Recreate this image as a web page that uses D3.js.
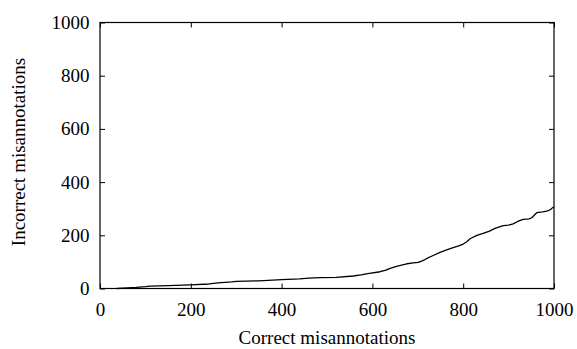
<!DOCTYPE html>
<html>
<head>
<meta charset="utf-8">
<script src="https://cdn.jsdelivr.net/npm/d3@7"></script>
<style>
  body { margin: 0; background: #fff; }
  svg { display: block; font-family: "Liberation Serif", "DejaVu Serif", serif; }
</style>
</head>
<body>
<div id="chart"></div>
<script>
// cumulative curve
const correct = [37, 60, 80, 100, 110, 150, 200, 240, 260, 290, 300, 350, 400, 440, 460, 485, 520, 558, 575, 590, 617, 630, 639, 655, 676, 690, 701, 710, 719, 735, 749, 765, 778, 790, 800, 808, 815, 830, 844, 858, 870, 880, 888, 900, 910, 920, 932, 945, 951, 958, 962, 975, 984, 992, 997, 1000];
const incorrect = [0, 2, 4, 7, 9, 11, 14, 17, 21, 25, 27, 29, 33, 36, 39, 41, 42, 47, 51, 56, 63, 69, 76, 84, 93, 96, 98, 104, 112, 125, 136, 146, 154, 160, 167, 176, 187, 200, 207, 216, 226, 232, 236, 238, 243, 252, 260, 262, 266, 278, 285, 288, 291, 296, 304, 306];
const xTicks = [0, 200, 400, 600, 800, 1000];
const yTicks = [0, 200, 400, 600, 800, 1000];
const xTitle = 'Correct misannotations';
const yTitle = 'Incorrect misannotations';

const width = 577, height = 349;
const margin = { top: 22.5, right: 23, bottom: 60.5, left: 100 };
const tickLen = 5;
const font = '"Liberation Serif", "DejaVu Serif", serif';

const svg = d3.select('#chart').append('svg')
  .attr('width', width)
  .attr('height', height);

const x = d3.scaleLinear().domain([0, 1000]).range([margin.left, width - margin.right]);
const y = d3.scaleLinear().domain([0, 1000]).range([height - margin.bottom, margin.top]);

const axisStyle = g => {
  g.attr('font-family', font).attr('font-size', 19);
  g.select('.domain').remove();
  g.selectAll('line').attr('stroke', '#000');
  g.selectAll('text').attr('fill', '#000');
};

// ticks point inward on all four sides
svg.append('g')
  .attr('transform', `translate(0,${y(0)})`)
  .call(d3.axisBottom(x).tickValues(xTicks).tickSizeInner(-tickLen).tickSizeOuter(0).tickPadding(14).tickFormat(d3.format('d')))
  .call(axisStyle);

svg.append('g')
  .attr('transform', `translate(0,${y(1000)})`)
  .call(d3.axisTop(x).tickValues(xTicks).tickSizeInner(-tickLen).tickSizeOuter(0).tickFormat(''))
  .call(axisStyle);

svg.append('g')
  .attr('transform', `translate(${x(0)},0)`)
  .call(d3.axisLeft(y).tickValues(yTicks).tickSizeInner(-tickLen).tickSizeOuter(0).tickPadding(10.5).tickFormat(d3.format('d')))
  .call(axisStyle);

svg.append('g')
  .attr('transform', `translate(${x(1000)},0)`)
  .call(d3.axisRight(y).tickValues(yTicks).tickSizeInner(-tickLen).tickSizeOuter(0).tickFormat(''))
  .call(axisStyle);

// frame
svg.append('rect')
  .attr('x', x(0))
  .attr('y', y(1000))
  .attr('width', x(1000) - x(0))
  .attr('height', y(0) - y(1000))
  .attr('fill', 'none')
  .attr('stroke', '#000')
  .attr('stroke-width', 1.2);

const line = d3.line()
  .x((d, i) => x(correct[i]))
  .y((d, i) => y(incorrect[i]));

svg.append('path')
  .datum(correct)
  .attr('d', line)
  .attr('fill', 'none')
  .attr('stroke', '#000')
  .attr('stroke-width', 1.3)
  .attr('stroke-linejoin', 'round');

svg.append('text')
  .attr('x', (x(0) + x(1000)) / 2)
  .attr('y', 344)
  .attr('text-anchor', 'middle')
  .style('font-size', '19px')
  .text(xTitle);

svg.append('text')
  .attr('transform', `translate(25,152) rotate(-90)`)
  .attr('text-anchor', 'middle')
  .style('font-size', '19px')
  .text(yTitle);
</script>
</body>
</html>
